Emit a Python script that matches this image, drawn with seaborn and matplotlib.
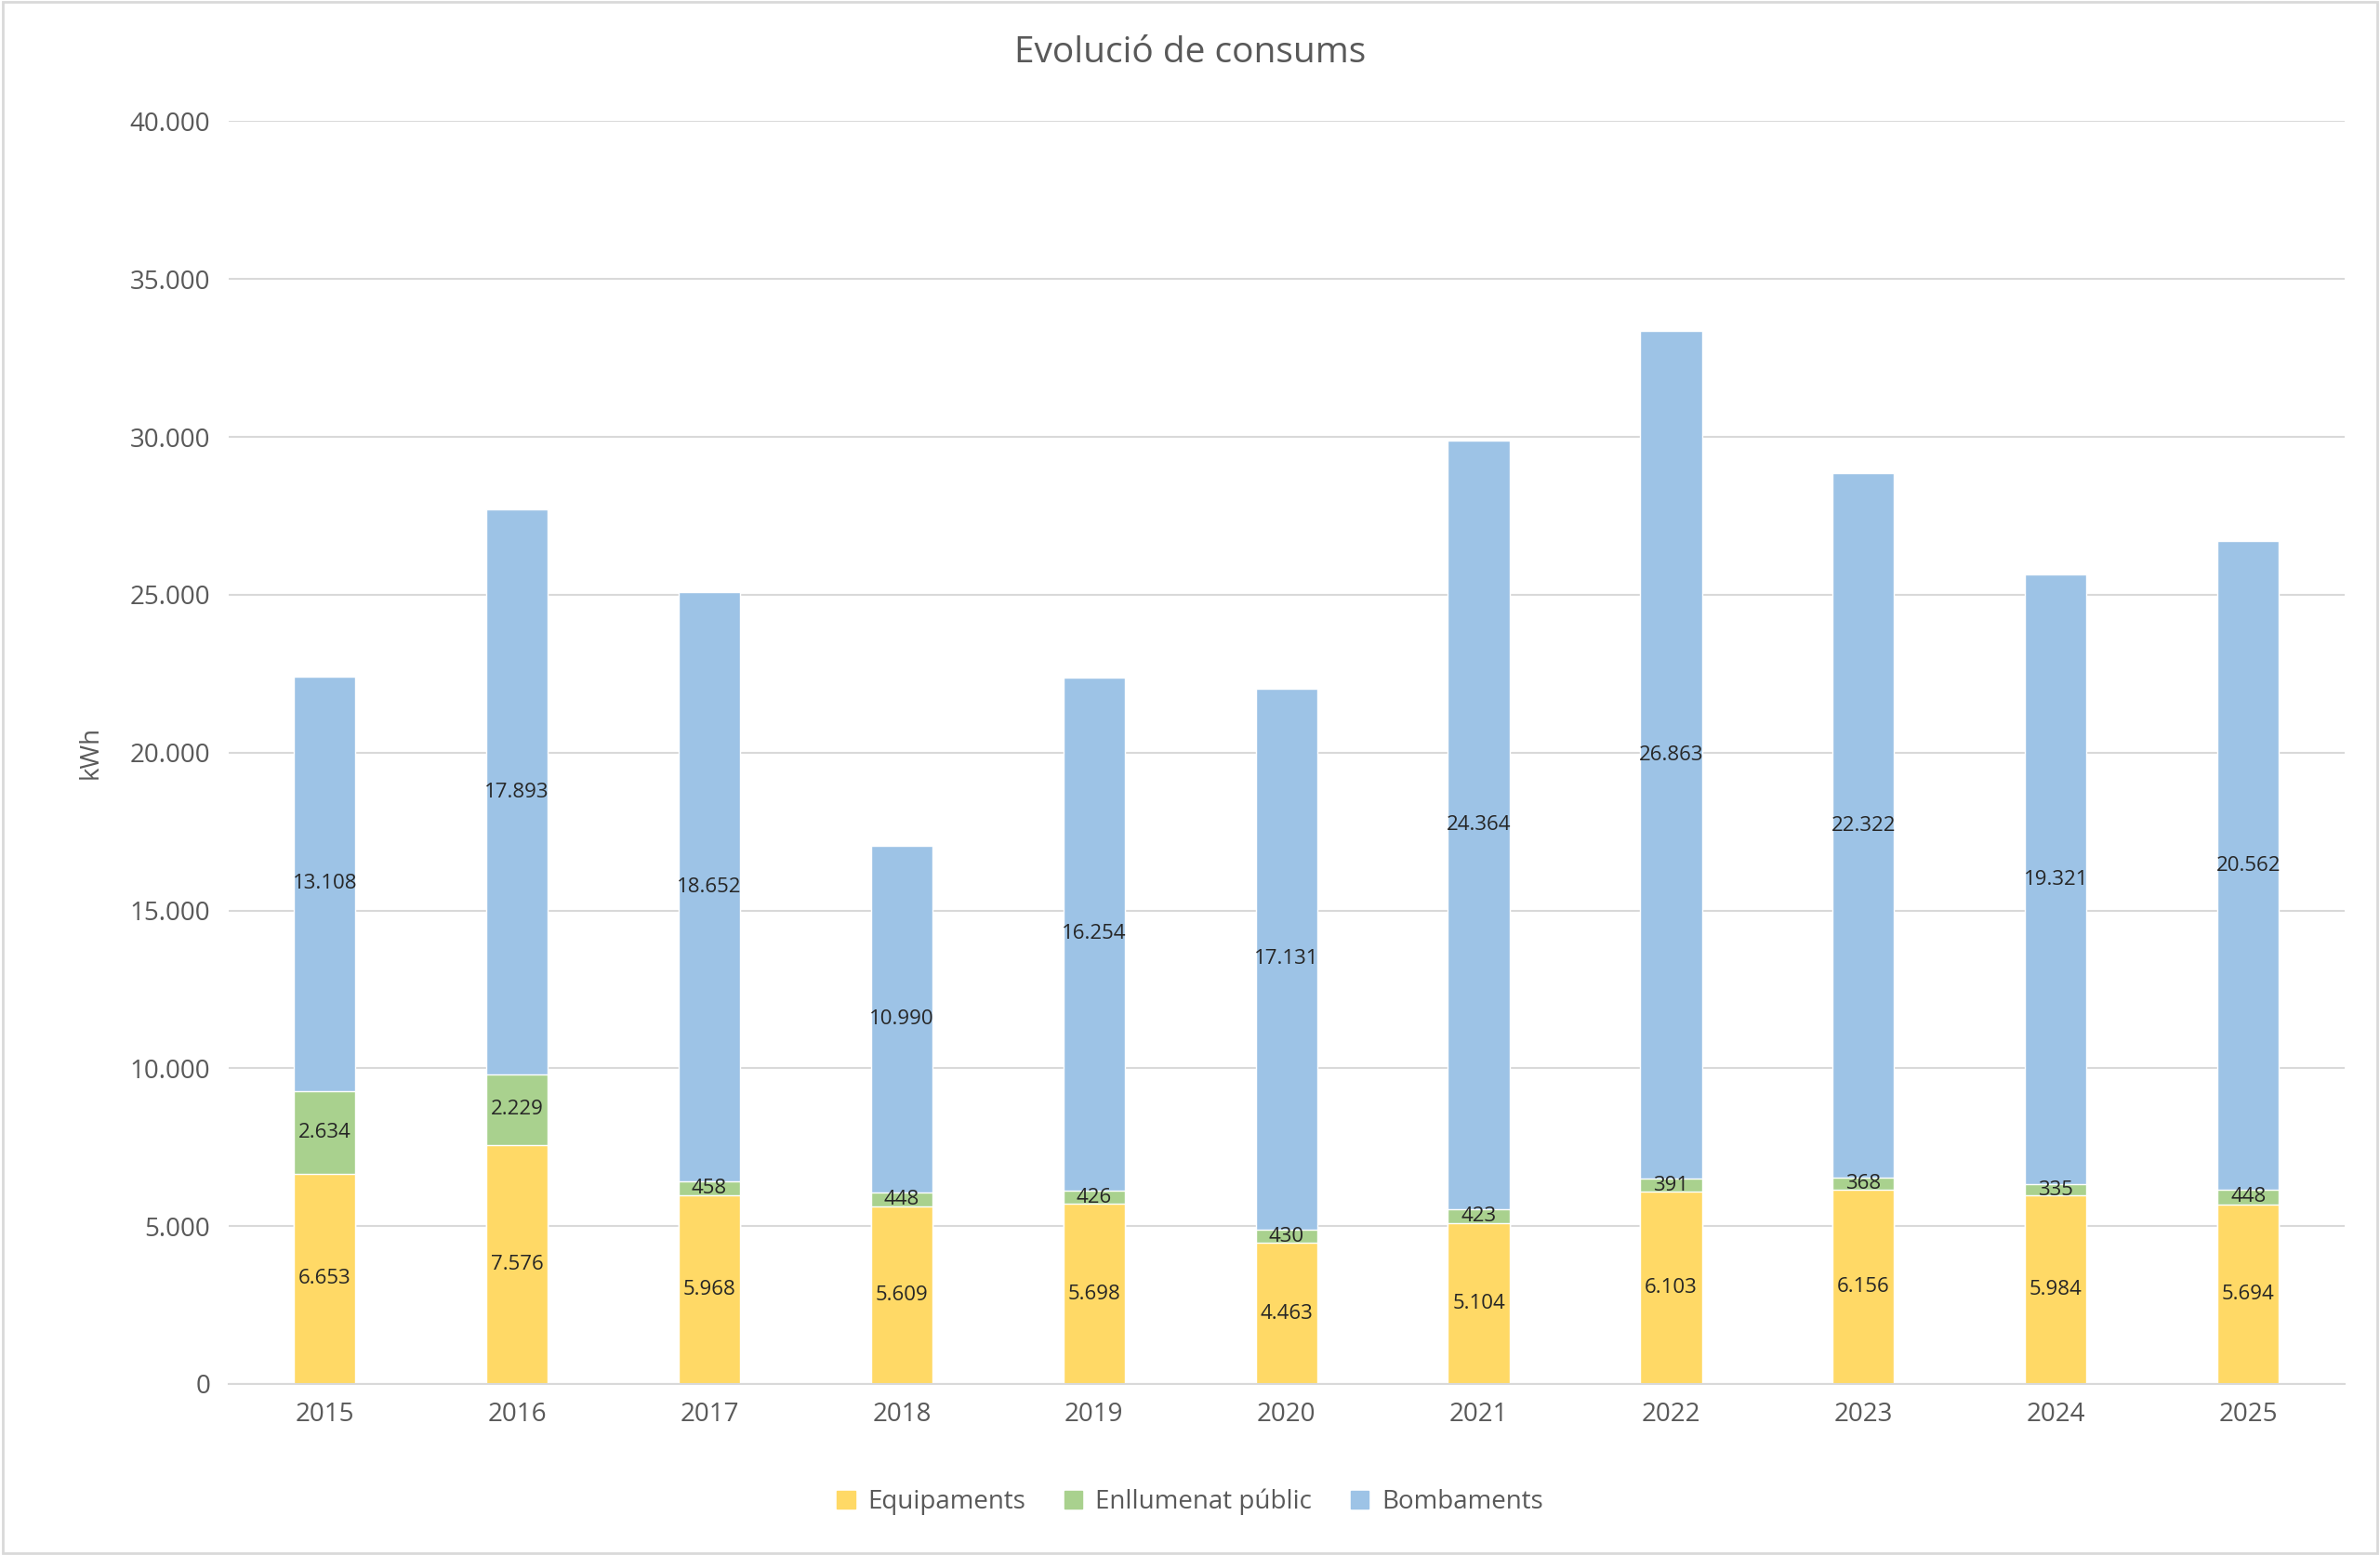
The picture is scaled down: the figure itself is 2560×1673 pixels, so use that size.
import numpy as np
import pandas as pd
import matplotlib
matplotlib.use("Agg")
import matplotlib.pyplot as plt
import seaborn as sns
from matplotlib.patches import Rectangle, Patch

anys = ["2015", "2016", "2017", "2018", "2019", "2020", "2021", "2022", "2023", "2024", "2025"]
equipaments = [6653, 7576, 5968, 5609, 5698, 4463, 5104, 6103, 6156, 5984, 5694]
enllumenat = [2634, 2229, 458, 448, 426, 430, 423, 391, 368, 335, 448]
bombaments = [13108, 17893, 18652, 10990, 16254, 17131, 24364, 26863, 22322, 19321, 20562]

series = ["Equipaments", "Enllumenat públic", "Bombaments"]
colors = ["#FFD966", "#A9D18E", "#9DC3E6"]
grey = "#595959"

sns.set_theme(style="white")
plt.rcParams['font.family'] = ['Open Sans', 'DejaVu Sans']

def fmt(v):
    return f"{v:,.0f}".replace(",", ".")

vals = np.array([equipaments, enllumenat, bombaments])
cum = np.cumsum(vals, axis=0)

fig = plt.figure(figsize=(25.6, 16.73), dpi=100)
ax = fig.add_axes((0.096, 0.110, 0.889, 0.812))

# draw from top of stack downward so lower segments sit on top
for k in [2, 1, 0]:
    df = pd.DataFrame({"any": anys, "v": cum[k]})
    sns.barplot(data=df, x="any", y="v", color=colors[k], width=0.32,
                saturation=1, ax=ax, zorder=2)

for i in range(len(anys)):
    for k in range(3):
        base = cum[k - 1][i] if k > 0 else 0
        ax.text(i, base + vals[k][i] / 2, fmt(vals[k][i]), ha="center", va="center",
                fontsize=16, color="#262626", zorder=3)

ax.set_ylim(0, 40000)
ax.set_yticks(range(0, 40001, 5000))
ax.set_yticklabels([fmt(t) for t in range(0, 40001, 5000)])
ax.yaxis.grid(True, color="#D9D9D9", linewidth=1.5, zorder=0)
ax.set_axisbelow(True)
for s in ["top", "right", "left"]:
    ax.spines[s].set_visible(False)
ax.spines["bottom"].set_color("#D9D9D9")
ax.spines["bottom"].set_linewidth(1.5)
ax.tick_params(axis="both", labelsize=20, colors=grey, length=0, pad=14)
ax.set_xlabel("")
ax.set_ylabel("kWh", fontsize=20, color=grey, labelpad=20)

fig.text(0.5, 0.966, "Evolució de consums", ha="center", va="center", fontsize=28, color=grey)

handles = [Patch(color=c, label=s) for c, s in zip(colors, series)]
fig.legend(handles=handles, loc="center", bbox_to_anchor=(0.5, 0.034), ncol=3,
           frameon=False, fontsize=20, labelcolor=grey, handlelength=0.7,
           handleheight=0.7, columnspacing=1.5, handletextpad=0.5)

fig.patches.append(Rectangle((0.001, 0.001), 0.998, 0.998, transform=fig.transFigure,
                             fill=False, edgecolor="#D9D9D9", linewidth=2))

fig.savefig("out.png", dpi=100)
